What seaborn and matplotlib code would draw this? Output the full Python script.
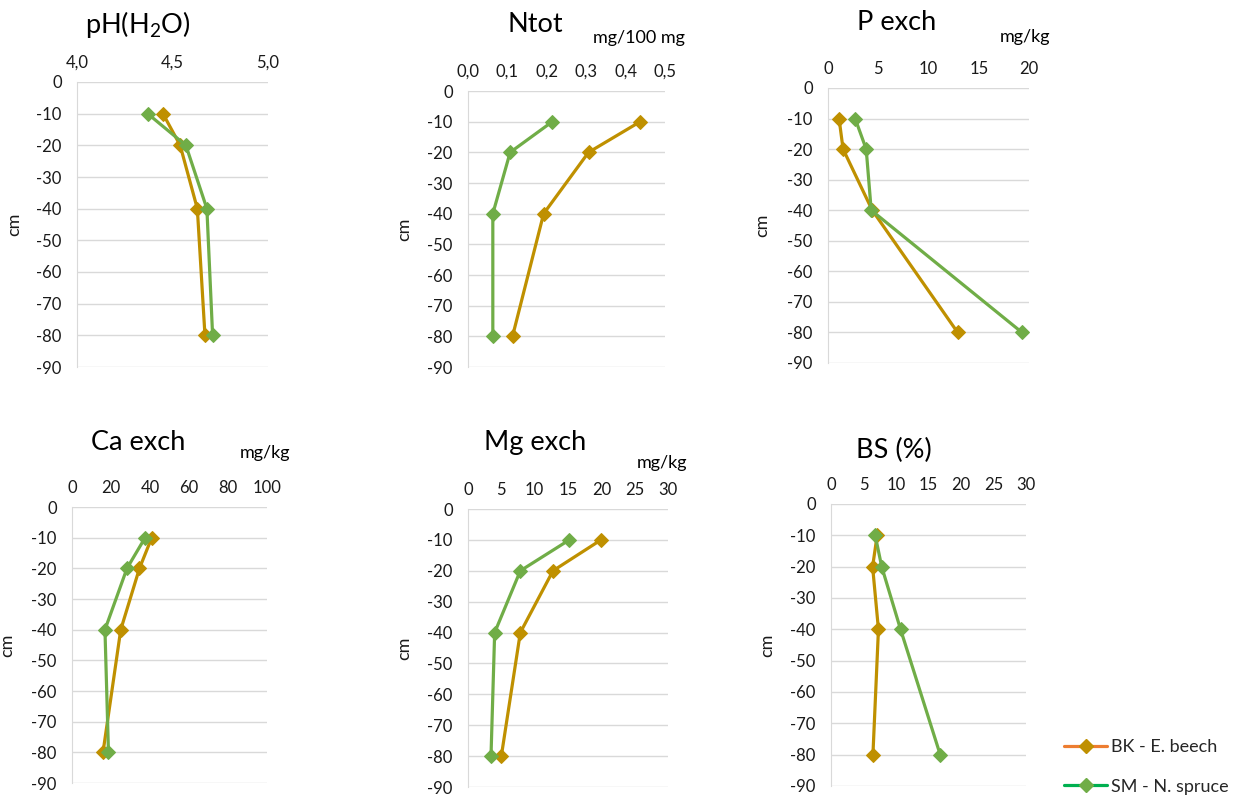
import matplotlib
matplotlib.use("Agg")
import matplotlib.pyplot as plt
import seaborn as sns
import pandas as pd
from matplotlib.lines import Line2D
from matplotlib.ticker import FuncFormatter

# soil depth (cm) and the two stands
depth = [-10, -20, -40, -80]
sites = ["BK - E. beech", "SM - N. spruce"]

ph_beech = [4.45, 4.54, 4.63, 4.67]
ph_spruce = [4.37, 4.57, 4.68, 4.71]
ntot_beech = [0.437, 0.306, 0.192, 0.113]
ntot_spruce = [0.214, 0.107, 0.063, 0.063]
p_beech = [1.1, 1.5, 4.4, 12.9]
p_spruce = [2.7, 3.8, 4.3, 19.3]
ca_beech = [40.9, 34.6, 25.0, 15.9]
ca_spruce = [37.5, 28.2, 16.9, 18.7]
mg_beech = [19.95, 12.75, 7.85, 5.0]
mg_spruce = [15.2, 7.85, 4.0, 3.45]
bs_beech = [7.1, 6.4, 7.3, 6.45]
bs_spruce = [6.8, 7.8, 10.7, 16.8]

titles = ["pH(H$_2$O)", "Ntot", "P exch", "Ca exch", "Mg exch", "BS (%)"]
units = ["", "mg/100 mg", "mg/kg", "mg/kg", "mg/kg", ""]
xticks = [[4.0, 4.5, 5.0], [0, 0.1, 0.2, 0.3, 0.4, 0.5], [0, 5, 10, 15, 20],
          [0, 20, 40, 60, 80, 100], [0, 5, 10, 15, 20, 25, 30], [0, 5, 10, 15, 20, 25, 30]]
comma_fmt = [True, True, False, False, False, False]
yticks = [0, -10, -20, -30, -40, -50, -60, -70, -80, -90]

beech_vals = [ph_beech, ntot_beech, p_beech, ca_beech, mg_beech, bs_beech]
spruce_vals = [ph_spruce, ntot_spruce, p_spruce, ca_spruce, mg_spruce, bs_spruce]

sns.set_style("white")
plt.rcParams["font.family"] = ["Lato", "DejaVu Sans"]
plt.rcParams["axes.unicode_minus"] = False
plt.rcParams["mathtext.fontset"] = "custom"
plt.rcParams["mathtext.rm"] = "Lato"
plt.rcParams["mathtext.it"] = "Lato"

beech_col = "#BF9000"
spruce_col = "#70AD47"
text_col = "#1a1a1a"

W, H = 1244, 799
fig = plt.figure(figsize=(W / 100, H / 100), dpi=100)

# axes boxes in pixels: left, top, right, bottom
boxes = [(77, 82, 268, 367), (468, 91, 665, 367), (828, 88, 1029, 363),
         (72, 507, 267, 783), (468, 509, 668, 787), (831, 504, 1026, 786)]
title_pos = [(138, 25), (535, 25), (897, 23), (138, 442), (535, 443), (894, 450)]
unit_pos = [None, (639, 38), (1025, 37), (265, 453), (662, 463), None]
cm_x = [22, 412, 770, 15, 412, 775]

for i in range(6):
    l, t, r, b = boxes[i]
    ax = fig.add_axes([l / W, 1 - b / H, (r - l) / W, (b - t) / H])
    df = pd.DataFrame({
        "depth": depth * 2,
        "value": beech_vals[i] + spruce_vals[i],
        "site": [sites[0]] * 4 + [sites[1]] * 4,
    })
    for site, col in zip(sites, [beech_col, spruce_col]):
        sns.lineplot(data=df[df["site"] == site], x="value", y="depth", sort=False,
                     estimator=None, color=col, lw=2.3, marker="D", markersize=7,
                     markeredgecolor=col, ax=ax)
    ax.set_xlim(xticks[i][0], xticks[i][-1])
    ax.set_ylim(-90, 0)
    ax.set_xticks(xticks[i])
    ax.set_yticks(yticks)
    if comma_fmt[i]:
        ax.xaxis.set_major_formatter(FuncFormatter(lambda v, p: f"{v:.1f}".replace(".", ",")))
    ax.xaxis.tick_top()
    ax.tick_params(axis="both", length=0, labelsize=12, colors=text_col)
    ax.tick_params(axis="x", pad=8)
    ax.tick_params(axis="y", pad=11)
    ax.yaxis.grid(True, color="#D9D9D9", lw=1)
    ax.xaxis.grid(False)
    for s in ["top", "right", "bottom"]:
        ax.spines[s].set_visible(False)
    ax.spines["left"].set_color("#D9D9D9")
    ax.set_xlabel("")
    ax.set_ylabel("cm", fontsize=13, color=text_col)
    ax.yaxis.set_label_coords((cm_x[i] - l) / (r - l), 0.5)

    fig.text(title_pos[i][0] / W, 1 - title_pos[i][1] / H, titles[i], fontsize=19.5,
             ha="center", va="center", color="black")
    if unit_pos[i]:
        fig.text(unit_pos[i][0] / W, 1 - unit_pos[i][1] / H, units[i], fontsize=13,
                 ha="center", va="center", color="black")

handles = [
    Line2D([0], [0], color="#ED7D31", lw=2.3, marker="D", ms=7, mfc=beech_col, mec=beech_col),
    Line2D([0], [0], color="#00B050", lw=2.3, marker="D", ms=7, mfc=spruce_col, mec=spruce_col),
]
fig.legend(handles, sites, loc="center left", bbox_to_anchor=(1064 / W, 1 - 767 / H),
           frameon=False, fontsize=13, handlelength=2.4, handletextpad=0.2,
           labelspacing=1.3, borderpad=0, borderaxespad=0)

fig.savefig("out.png", dpi=100)
